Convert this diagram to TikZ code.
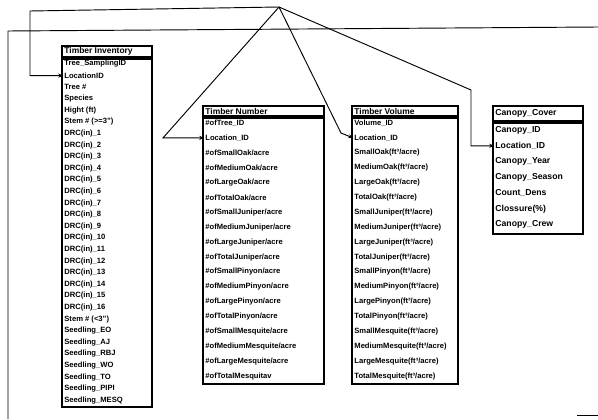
\documentclass[tikz,border=0pt]{standalone}
\usepackage{fontspec}
\setmainfont{Liberation Sans}
\usetikzlibrary{arrows.meta}
\begin{document}
\begin{tikzpicture}[x=0.03cm,y=-0.03cm,
            tab/.style={draw,line width=1pt},
            head/.style={anchor=west,inner sep=1pt,font=\bfseries\fontsize{7.2}{8}\selectfont},
            row/.style={anchor=west,inner sep=1pt,font=\bfseries\fontsize{6.5}{7}\selectfont},
            bigrow/.style={row,font=\bfseries\fontsize{7.4}{8}\selectfont},
            link/.style={line width=0.8pt},
            arr/.style={link,-{Stealth[length=4pt,width=3.5pt]}}]
            \useasboundingbox (0,0) rectangle (598,419);
            % Timber Inventory
            \draw[tab] (62,46) rectangle (152,57);
            \node[head] (tihead) at (63,51.5) {Timber Inventory};
            \draw[tab] (62,59) rectangle (152,407);
            \foreach \name [count=\i from 0] in {Tree\_SamplingID,LocationID,Tree \#,Species,Hight (ft),Stem \# (>=3")}
              \node[row] (ti\i) at (63,{64+11.6*\i}) {\name};
            \foreach \k in {1,...,16}
              \node[row] (tidrc\k) at (63,{64+11.6*(5+\k)}) {DRC(in)\_\k};
            \foreach \name [count=\i from 22] in {Stem \# (<3"),Seedling\_EO,Seedling\_AJ,Seedling\_RBJ,Seedling\_WO,Seedling\_TO,Seedling\_PIPI,Seedling\_MESQ}
              \node[row] (ti\i) at (63,{64+11.6*\i}) {\name};
            % Timber Number
            \draw[tab] (203,106) rectangle (324,116);
            \node[head] (tnhead) at (204,111) {Timber Number};
            \draw[tab] (203,118) rectangle (324,384);
            \foreach \name [count=\i from 0] in {\#ofTree\_ID,Location\_ID,
                \#ofSmallOak/acre,\#ofMediumOak/acre,\#ofLargeOak/acre,\#ofTotalOak/acre,
                \#ofSmallJuniper/acre,\#ofMediumJuniper/acre,\#ofLargeJuniper/acre,\#ofTotalJuniper/acre,
                \#ofSmallPinyon/acre,\#ofMediumPinyon/acre,\#ofLargePinyon/acre,\#ofTotalPinyon/acre,
                \#ofSmallMesquite/acre,\#ofMediumMesquite/acre,\#ofLargeMesquite/acre,\#ofTotalMesquitav}
              \node[row] (tn\i) at (204,{123+14.9*\i}) {\name};
            % Timber Volume
            \draw[tab] (352,106) rectangle (458,116);
            \node[head] (tvhead) at (353,111) {Timber Volume};
            \draw[tab] (352,118) rectangle (458,384);
            \node[row] (tv0) at (353,123) {Volume\_ID};
            \node[row] (tv1) at (353,137.9) {Location\_ID};
            \foreach \sp [count=\s from 0] in {Oak,Juniper,Pinyon,Mesquite}
              \foreach \sz [count=\z from 0] in {Small,Medium,Large,Total}
                \node[row] (tv\sz\sp) at (353,{123+14.9*(2+4*\s+\z)}) {\sz\sp(ft³/acre)};
            % Canopy Cover
            \draw[tab] (493,106) rectangle (583,121);
            \node[head,font=\bfseries\fontsize{7.4}{8}\selectfont] (cchead) at (494,113.5) {Canopy\_Cover};
            \draw[tab] (493,123) rectangle (583,234);
            \foreach \name [count=\i from 0] in {Canopy\_ID,Location\_ID,Canopy\_Year,Canopy\_Season,Count\_Dens,Clossure(\%),Canopy\_Crew}
              \node[bigrow] (cc\i) at (494,{130+15.8*\i}) {\name};
            % connectors
            \coordinate (apex) at (279,7);
            \coordinate (tibend) at (30,11);
            \coordinate (tnbend) at (163,137.9);
            \coordinate (tvbend) at (341,133);
            \coordinate (ccbend) at (471,90);
            \draw[arr] (apex) -- (tibend) |- (ti1.west);
            \draw[arr] (apex) -- (tnbend) -- (tn1.west);
            \draw[arr] (apex) -- (tvbend) -- (tv1.west);
            \draw[arr] (apex) -- (ccbend) |- (cc1.west);
            % frame lines
            \coordinate (frameR) at (598,27);
            \coordinate (frameL) at (8,31);
            \coordinate (frameB) at (8,419);
            \draw[link] (frameR) -- (frameL) -- (frameB);
            \coordinate (cornerL) at (577,415);
            \coordinate (cornerR) at (598,415);
            \draw[link] (cornerL) -- (cornerR);
        \end{tikzpicture}
\end{document}
